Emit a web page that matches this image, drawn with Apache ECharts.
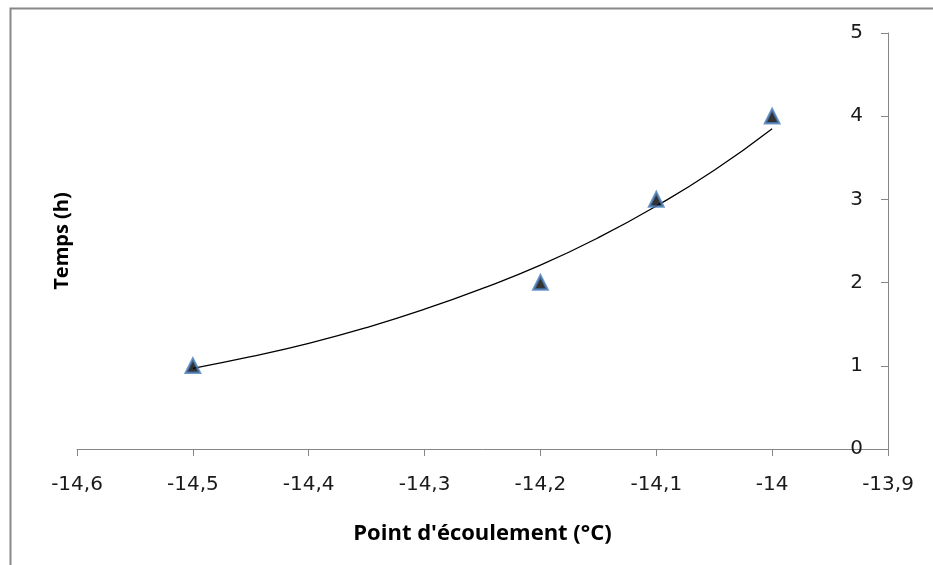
<!DOCTYPE html>
<html>
<head>
<meta charset="utf-8">
<script src="https://cdn.jsdelivr.net/npm/echarts@6/dist/echarts.min.js"></script>
<style>html,body{margin:0;padding:0;background:#fff}#c{width:933px;height:565px}</style>
</head>
<body>
<div id="c"></div>
<script>
// Observed points
const pointX = [-14.5, -14.2, -14.1, -14.0];
const pointY = [1, 2, 3, 4];
// Trendline (exponential)
const trendX = [-14.5, -14.45, -14.4, -14.35, -14.3, -14.25, -14.2, -14.15, -14.1, -14.05, -14.0];
const trendY = [0.97, 1.11, 1.27, 1.46, 1.68, 1.93, 2.21, 2.54, 2.92, 3.35, 3.85];
// Axis settings
const xMin = -14.6, xMax = -13.9, xStep = 0.1;
const yMin = 0, yMax = 5, yStep = 1;
const xTitle = "Point d'écoulement (°C)";
const yTitle = "Temps (h)";

const LABEL_FONT = "'DejaVu Sans', sans-serif";
const TITLE_FONT = "'Open Sans', sans-serif";
const chart = echarts.init(document.getElementById('c'), null, {renderer: 'canvas'});
const axisGray = '#868686';
chart.setOption({
  animation: false,
  backgroundColor: '#fff',
  grid: {left: 77, right: 45, top: 33, bottom: 116, containLabel: false},
  xAxis: {
    type: 'value', min: xMin, max: xMax, interval: xStep,
    axisLine: {show: true, onZero: false, lineStyle: {color: axisGray, width: 1}},
    axisTick: {show: true, length: 7, lineStyle: {color: axisGray}},
    splitLine: {show: false},
    axisLabel: {
      margin: 26, color: '#1a1a1a', fontSize: 20, fontFamily: LABEL_FONT,
      formatter: v => (Math.round(v * 10) / 10).toString().replace('.', ',')
    },
    name: xTitle, nameLocation: 'middle', nameGap: 74,
    nameTextStyle: {fontSize: 22, fontWeight: 'bold', color: '#000', fontFamily: TITLE_FONT}
  },
  yAxis: {
    type: 'value', min: yMin, max: yMax, interval: yStep, position: 'right',
    axisLine: {show: true, onZero: false, lineStyle: {color: axisGray, width: 1}},
    axisTick: {show: true, inside: true, length: 7, lineStyle: {color: axisGray}},
    splitLine: {show: false},
    axisLabel: {inside: true, margin: 25, color: '#1a1a1a', fontSize: 20, fontFamily: LABEL_FONT}
  },
  graphic: [
    {type: 'rect', left: 8, top: 6, shape: {width: 1000, height: 1000},
     style: {fill: 'none', stroke: '#888', lineWidth: 2}, silent: true, z: -1},
    {type: 'text', x: 62, y: 241, rotation: Math.PI / 2,
     style: {text: yTitle, font: 'bold 20px ' + TITLE_FONT, fill: '#000', align: 'center', verticalAlign: 'middle'}}
  ],
  series: [
    {
      type: 'line', data: trendX.map((x, i) => [x, trendY[i]]),
      smooth: true, showSymbol: false, symbol: 'none',
      lineStyle: {color: '#000', width: 1.3}, z: 2
    },
    {
      type: 'scatter', data: pointX.map((x, i) => [x, pointY[i]]),
      symbol: 'triangle', symbolSize: 14,
      itemStyle: {color: '#000', borderColor: '#4A7EBB', borderWidth: 2.5}, z: 3
    }
  ]
});
</script>
</body>
</html>
